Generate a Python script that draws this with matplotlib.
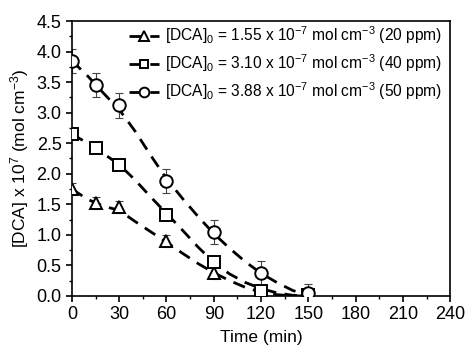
import numpy as np
import matplotlib
matplotlib.use('Agg')
import matplotlib.pyplot as plt
from matplotlib.ticker import MultipleLocator

plt.rcParams['font.family'] = ['Liberation Sans', 'DejaVu Sans']
plt.rcParams['mathtext.fontset'] = 'custom'
plt.rcParams['mathtext.rm'] = 'Liberation Sans'
plt.rcParams['mathtext.it'] = 'Liberation Sans'
plt.rcParams['font.size'] = 10

# measured points
t = [0, 15, 30, 60, 90, 120, 150]
c20 = [1.75, 1.52, 1.45, 0.90, 0.38, 0.05, 0.0]
c20_err = [0.10, 0.10, 0.10, 0.10, 0.10, 0.05, 0.05]
c40 = [2.65, 2.42, 2.15, 1.33, 0.55, 0.08, 0.02]
c40_err = [0.05, 0.05, 0.05, 0.05, 0.05, 0.05, 0.05]
c50 = [3.85, 3.45, 3.12, 1.88, 1.05, 0.37, 0.05]
c50_err = [0.20, 0.20, 0.20, 0.20, 0.20, 0.20, 0.15]

# fitted curves
t_fit = [0, 10, 20, 30, 40, 50, 60, 70, 80, 90, 100, 110, 120, 130, 140, 150]
f20 = [1.75, 1.58, 1.47, 1.40, 1.22, 1.05, 0.88, 0.70, 0.53, 0.38, 0.25, 0.14, 0.06, 0.02, 0.0, 0.0]
f40 = [2.65, 2.50, 2.33, 2.15, 1.90, 1.62, 1.35, 1.08, 0.80, 0.55, 0.36, 0.22, 0.12, 0.05, 0.01, 0.0]
f50 = [3.85, 3.60, 3.32, 3.05, 2.70, 2.30, 1.92, 1.60, 1.30, 1.02, 0.78, 0.56, 0.37, 0.22, 0.09, 0.0]

labels = [r'[DCA]$_0$ = 1.55 x 10$^{-7}$ mol cm$^{-3}$ (20 ppm)',
          r'[DCA]$_0$ = 3.10 x 10$^{-7}$ mol cm$^{-3}$ (40 ppm)',
          r'[DCA]$_0$ = 3.88 x 10$^{-7}$ mol cm$^{-3}$ (50 ppm)']

fig = plt.figure(figsize=(4.67, 3.51), dpi=100)
ax = fig.add_axes([0.154, 0.157, 0.81, 0.783])

dash = (0, (4.5, 3))
handles = []
for y, err, fit, mk, lab in [(c20, c20_err, f20, '^', labels[0]),
                              (c40, c40_err, f40, 's', labels[1]),
                              (c50, c50_err, f50, 'o', labels[2])]:
    ax.errorbar(t, y, yerr=err, fmt='none', ecolor='#444444', elinewidth=0.8,
                capsize=3, capthick=0.8, zorder=2)
    ax.plot(t_fit, fit, color='black', lw=2, linestyle=dash, zorder=3)
    ax.plot(t, y, linestyle='none', marker=mk, ms=9 if mk != 's' else 8,
            mfc='white', mec='black', mew=1.4, zorder=4)
    h, = ax.plot([], [], color='black', lw=2, linestyle=dash, marker=mk,
                 ms=7 if mk != 's' else 6, mfc='white', mec='black', mew=1.4)
    handles.append(h)

ax.legend(handles, labels, loc='upper right', frameon=False, fontsize=11.2,
          handlelength=1.9, handletextpad=0.4, labelspacing=0.4,
          borderaxespad=0.0, bbox_to_anchor=(0.995, 1.01))

ax.set_xlim(0, 240)
ax.set_ylim(0, 4.5)
ax.xaxis.set_major_locator(MultipleLocator(30))
ax.xaxis.set_minor_locator(MultipleLocator(15))
ax.yaxis.set_major_locator(MultipleLocator(0.5))
ax.yaxis.set_minor_locator(MultipleLocator(0.25))
ax.set_yticks(np.arange(0, 4.51, 0.5))
ax.set_yticklabels(['%.1f' % v for v in np.arange(0, 4.51, 0.5)])
ax.tick_params(direction='out', which='major', length=4, width=1.2, labelsize=13)
ax.tick_params(direction='out', which='minor', length=2.5, width=1.0)
for s in ax.spines.values():
    s.set_linewidth(1.2)

ax.set_xlabel('Time (min)', fontsize=12.5, labelpad=5)
ax.set_ylabel(r'[DCA] x 10$^{7}$ (mol cm$^{-3}$)', fontsize=12.5, labelpad=4)

fig.savefig('out.png', dpi=100)
